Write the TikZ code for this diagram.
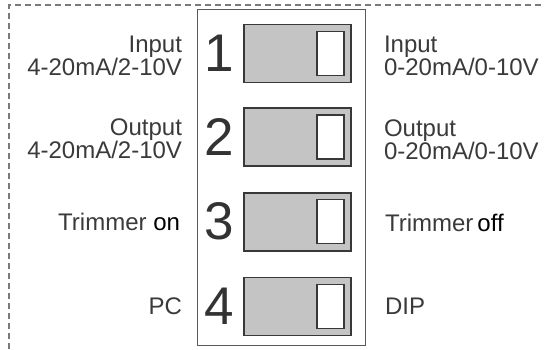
\documentclass[tikz,border=0pt]{standalone}
\usepackage{fontspec}
\setmainfont{Liberation Sans}
\usepackage{xcolor}
\usetikzlibrary{positioning}

\definecolor{txtgray}{HTML}{3A3A3A}
\definecolor{numgray}{HTML}{333333}
\definecolor{swfill}{HTML}{C4C4C4}
\definecolor{swdark}{HTML}{383838}
\definecolor{panelgray}{HTML}{5A5A5A}
\definecolor{framegray}{HTML}{7A7A7A}

\begin{document}
\begin{tikzpicture}[
      x=1pt, y=1pt,
      panel/.style={draw=panelgray, line width=1pt, minimum width=168pt, minimum height=335pt, inner sep=0pt},
      switch/.style={draw=swdark, line width=1.6pt, fill=swfill, minimum width=107pt, minimum height=58pt, inner sep=0pt},
      knob/.style={draw=swdark, line width=1.4pt, fill=white, minimum width=27pt, minimum height=44pt, inner sep=0pt},
      num/.style={font=\fontsize{53}{53}\selectfont, text=numgray, inner sep=0pt},
      lbl/.style={font=\fontsize{24}{23}\selectfont, text=txtgray, inner sep=0pt},
      frame/.style={draw=framegray, line width=1.2pt, dash pattern=on 6pt off 4pt},
    ]

    \useasboundingbox (0,0) rectangle (544,349);

    % dashed outline
    \draw[frame] (9,0) -- (9,344) -- (544,344);

    \node[panel] (panel) at (281,171.5) {};

    \node[switch] (sw1) at (297.5,295.5) {};
    \node[switch, below=24pt of sw1] (sw2) {};
    \node[switch, below=25pt of sw2] (sw3) {};
    \node[switch, below=25pt of sw3] (sw4) {};

    \node[knob, left=7pt of sw1.east] (knob1) {};
    \node[knob, left=7pt of sw2.east] (knob2) {};
    \node[knob, left=7pt of sw3.east] (knob3) {};
    \node[knob, left=7pt of sw4.east] (knob4) {};

    \node[num, left=24pt of sw1, anchor=center] (n1) {1};
    \node[num, left=24pt of sw2, anchor=center] (n2) {2};
    \node[num, left=24pt of sw3, anchor=center] (n3) {3};
    \node[num, left=24pt of sw4, anchor=center] (n4) {4};

    % left side labels
    \node[lbl, align=right, left=61pt of sw1, yshift=-2pt] (in_l) {Input\\4-20mA/2-10V};
    \node[lbl, align=right, left=61pt of sw2, yshift=-2pt] (out_l) {Output\\4-20mA/2-10V};
    \node[lbl, left=63pt of sw3] (trim_l) {Trimmer \textcolor{black}{on}};
    \node[lbl, left=61pt of sw4] (pc) {PC};

    % right side labels
    \node[lbl, align=left, right=32pt of sw1, yshift=-2pt] (in_r) {Input\\0-20mA/0-10V};
    \node[lbl, align=left, right=32pt of sw2, yshift=-3pt] (out_r) {Output\\0-20mA/0-10V};
    \node[lbl, right=33pt of sw3, yshift=-1pt] (trim_r) {Trimmer\,\textcolor{black}{off}};
    \node[lbl, right=33pt of sw4] (dip) {DIP};
  \end{tikzpicture}
\end{document}
